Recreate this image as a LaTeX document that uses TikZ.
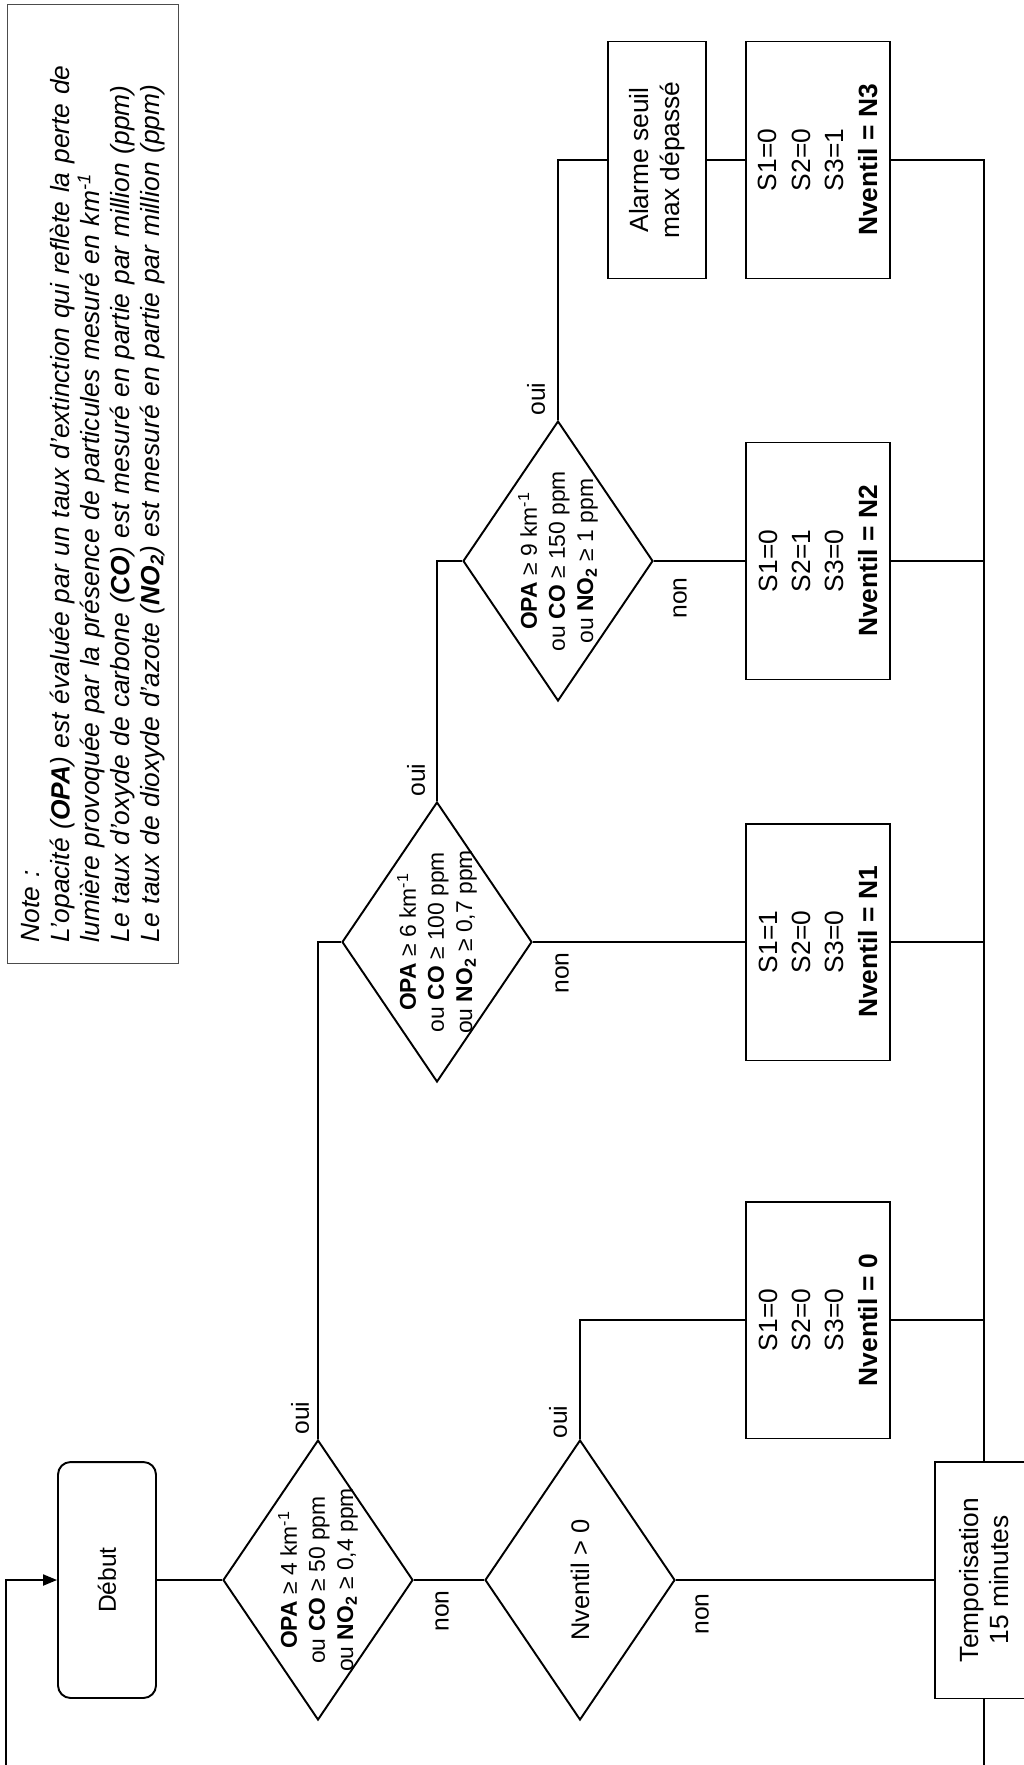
\documentclass[tikz,border=0pt]{standalone}
\usepackage{fontspec}
\setmainfont{Liberation Sans}
\usetikzlibrary{shapes.geometric, arrows.meta}

\begin{document}
\begin{tikzpicture}[
  x=0.02cm, y=0.02cm, rotate=90, transform shape,
  line width=1.1pt,
  every node/.style={font=\fontsize{15}{19}\selectfont},
  startbox/.style={draw, rounded corners=0.25cm, minimum width=4.72cm, minimum height=1.96cm, font=\fontsize{14}{16}\selectfont},
  decision/.style={draw, diamond, inner sep=0pt, minimum width=5.6cm, minimum height=3.8cm},
  dectext/.style={align=center, inner sep=0pt, font=\fontsize{13}{16}\selectfont},
  actbox/.style={draw, align=center, minimum width=4.74cm, minimum height=2.88cm},
  thinbox/.style={draw, align=center, minimum width=4.74cm, minimum height=1.96cm, font=\fontsize{15}{17.5}\selectfont},
  yn/.style={inner sep=0pt, font=\fontsize{14}{16}\selectfont},
  notebox/.style={draw=black!70, line width=0.8pt, align=left, text width=18.34cm, inner xsep=0.42cm, minimum height=3.42cm, font=\fontsize{15}{17}\selectfont\itshape},
]
  % sheet (the whole flow is drawn turned a quarter turn)
  \useasboundingbox (0,0) rectangle (-1765,-1024);
  \clip (0,0) rectangle (-1765,-1024);

  % Main column
  \node[startbox] (debut) at (-1580,-107) {Début};
  \node[decision] (d1) at (-1580,-318) {};
  \node[dectext] (d1txt) at (d1) {\textbf{OPA} ≥ 4 km\textsuperscript{-1}\\ou \textbf{CO} ≥ 50 ppm\\ou \textbf{NO\textsubscript{2}} ≥ 0,4 ppm};
  \node[decision] (dnv) at (-1580,-580) {};
  \node[dectext, font=\fontsize{14.5}{17}\selectfont] (dnvtxt) at (dnv) {Nventil > 0};
  \node[thinbox] (tempo) at (-1580,-984) {Temporisation\\15 minutes};

  % Threshold tests
  \node[decision] (d2) at (-942,-437) {};
  \node[dectext] (d2txt) at (d2) {\textbf{OPA} ≥ 6 km\textsuperscript{-1}\\ou \textbf{CO} ≥ 100 ppm\\ou \textbf{NO\textsubscript{2}} ≥ 0,7 ppm};
  \node[decision] (d3) at (-561,-558) {};
  \node[dectext] (d3txt) at (d3) {\textbf{OPA} ≥ 9 km\textsuperscript{-1}\\ou \textbf{CO} ≥ 150 ppm\\ou \textbf{NO\textsubscript{2}} ≥ 1 ppm};
  \node[thinbox] (alarm) at (-160,-657) {Alarme seuil\\max dépassé};

  % Fan settings
  \node[actbox] (n0) at (-1320,-818) {S1=0\\S2=0\\S3=0\\\textbf{Nventil = 0}};
  \node[actbox] (n1) at (-942,-818) {S1=1\\S2=0\\S3=0\\\textbf{Nventil = N1}};
  \node[actbox] (n2) at (-561,-818) {S1=0\\S2=1\\S3=0\\\textbf{Nventil = N2}};
  \node[actbox] (n3) at (-160,-818) {S1=0\\S2=0\\S3=1\\\textbf{Nventil = N3}};

  % Note
  \node[notebox, anchor=north west] (note) at (-964,-7) {Note :\\\makebox[\linewidth][s]{L'opacité (\textbf{OPA}) est évaluée par un taux d'extinction qui reflète la perte de}\\lumière provoquée par la présence de particules mesuré en km\textsuperscript{-1}\\Le taux d'oxyde de carbone (\textbf{CO}) est mesuré en partie par million (ppm)\\Le taux de dioxyde d'azote (\textbf{NO\textsubscript{2}}) est mesuré en partie par million (ppm)};

  % oui / non
  \node[yn] (d1oui) at (-1418,-300) {oui};
  \node[yn] (d1non) at (-1611,-442) {non};
  \node[yn] (dnvoui) at (-1422,-558) {oui};
  \node[yn] (dnvnon) at (-1614,-702) {non};
  \node[yn] (d2oui) at (-780,-416) {oui};
  \node[yn] (d2non) at (-973,-562) {non};
  \node[yn] (d3oui) at (-399,-536) {oui};
  \node[yn] (d3non) at (-598,-680) {non};

  % Connectors
  \draw (debut) -- (d1);
  \draw (d1) -- (dnv);
  \draw (dnv) -- (tempo);
  \draw (d1.east) -| (d2.north);
  \draw (d2.south) -- (n1.north);
  \draw (d2.east) -| (d3.north);
  \draw (d3.south) -- (n2.north);
  \draw (d3.east) -| (alarm.north);
  \draw (alarm) -- (n3);
  \draw (dnv.east) -| (n0.north);
  \draw (n3.south) |- (tempo.east);
  \foreach \n in {n2,n1,n0}
    \draw (\n.south) -- (\n.south |- tempo.east);

  % Loop back to the start
  \coordinate (loopa) at (-1800,-984);
  \coordinate (loopb) at (-1800,-6);
  \coordinate (loopc) at (-1580,-6);
  \draw[-{Triangle[length=0.28cm,width=0.22cm]}] (tempo.west) -- (loopa) -- (loopb) -- (loopc) -- (debut.north);
\end{tikzpicture}
\end{document}
